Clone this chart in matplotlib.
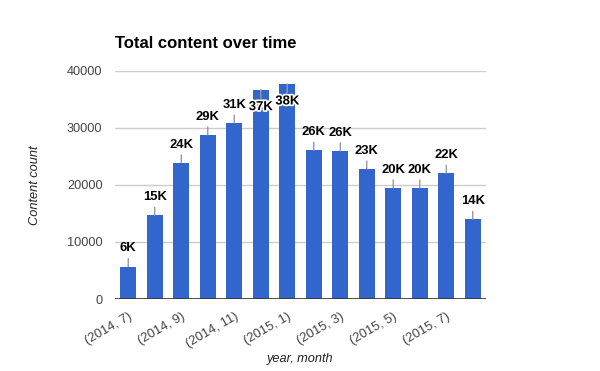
import matplotlib
matplotlib.use('Agg')
import matplotlib.pyplot as plt
import matplotlib.patheffects as pe

plt.rcParams['font.family'] = ['Liberation Sans', 'DejaVu Sans']

# datos
months = ['(2014, 7)', '(2014, 8)', '(2014, 9)', '(2014, 10)', '(2014, 11)', '(2014, 12)',
          '(2015, 1)', '(2015, 2)', '(2015, 3)', '(2015, 4)', '(2015, 5)', '(2015, 6)',
          '(2015, 7)', '(2015, 8)']
counts = [5700, 14700, 23900, 28800, 30900, 36700, 37700,
          26100, 26000, 22800, 19500, 19500, 22100, 14000]
labels = ['6K', '15K', '24K', '29K', '31K', '37K', '38K',
          '26K', '26K', '23K', '20K', '20K', '22K', '14K']

fig = plt.figure(figsize=(6, 3.71), dpi=100)
ax = fig.add_axes([115/600, 1 - 299/371, 371/600, 228/371])

x = list(range(len(counts)))
ax.bar(x, counts, width=0.6, color='#3366cc', zorder=2)

ax.set_xlim(-0.5, len(counts) - 0.5)
ax.set_ylim(0, 40000)
ax.set_yticks([0, 10000, 20000, 30000, 40000])
ax.yaxis.grid(True, color='#cccccc', linewidth=1, zorder=0)
ax.axhline(0, color='#333333', linewidth=1.2, zorder=3)
for s in ax.spines.values():
    s.set_visible(False)
ax.tick_params(axis='y', length=0, pad=9, labelsize=9.2, labelcolor='#444444')

# etiquetas del eje x cada dos meses
ax.set_xticks(x[::2])
ax.set_xticklabels(months[::2], rotation=30, ha='right', rotation_mode='anchor')
ax.tick_params(axis='x', length=0, pad=8, labelsize=9.4, labelcolor='#444444')

# anotaciones sobre las barras
for i, (c, lab) in enumerate(zip(counts, labels)):
    if c > 35000:
        ax.annotate(lab, xy=(i, c), xytext=(0, -12.5), textcoords='offset points',
                    ha='center', va='center', fontsize=9.4, fontweight='bold',
                    color='black', zorder=5,
                    path_effects=[pe.withStroke(linewidth=2.5, foreground='white')],
                    arrowprops=dict(arrowstyle='-', color='#999999', lw=1,
                                    shrinkA=0, shrinkB=0))
    else:
        ax.annotate(lab, xy=(i, c), xytext=(0, 13), textcoords='offset points',
                    ha='center', va='center', fontsize=9.4, fontweight='bold',
                    color='black', zorder=5,
                    arrowprops=dict(arrowstyle='-', color='#999999', lw=1,
                                    shrinkA=1, shrinkB=0))

fig.text(115/600, 1 - 44/371, 'Total content over time', fontsize=12,
         fontweight='bold', va='center', ha='left')
fig.text(35/600, 1 - 185/371, 'Content count', rotation=90, style='italic',
         fontsize=9.2, color='#222222', ha='center', va='center')
fig.text(300/600, 1 - 359/371, 'year, month', style='italic',
         fontsize=9.2, color='#222222', ha='center', va='center')

fig.savefig('out.png', dpi=100)
